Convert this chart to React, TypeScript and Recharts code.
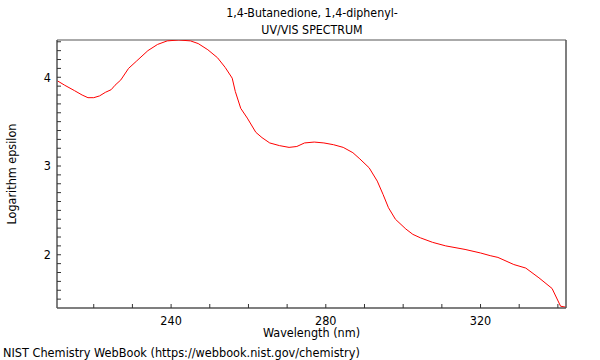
import { LineChart, Line, XAxis, YAxis, ReferenceLine } from 'recharts';

const wavelengths = [
  210.6, 212.5, 215.0, 217.0, 218.5, 220.0, 221.5, 223.0, 224.5, 225.5, 227.0, 229.0, 231.0, 234.0,
  236.5, 239.0, 242.0, 245.0, 247.0, 249.5, 252.0, 254.0, 255.8, 256.6, 258.0, 259.7, 261.9, 263.5,
  265.5, 268.0, 270.5, 272.5, 274.5, 277.0, 279.5, 282.0, 284.5, 287.0, 288.8, 291.2, 293.3, 294.8,
  296.2, 298.0, 300.7, 302.5, 304.5, 307.6, 311.0, 316.0, 320.0, 322.5, 324.5, 328.6, 331.7, 335.1,
  338.5, 340.7, 342.0,
];
const logEpsilon = [
  3.96, 3.91, 3.85, 3.8, 3.77, 3.77, 3.79, 3.83, 3.86, 3.91, 3.97, 4.1, 4.18, 4.3,
  4.37, 4.41, 4.42, 4.41, 4.38, 4.31, 4.22, 4.11, 3.99, 3.84, 3.65, 3.54, 3.38, 3.32,
  3.26, 3.23, 3.21, 3.22, 3.26, 3.27, 3.26, 3.24, 3.21, 3.15, 3.08, 2.98, 2.83, 2.68,
  2.53, 2.4, 2.29, 2.23, 2.19, 2.14, 2.1, 2.06, 2.02, 1.99, 1.97, 1.89, 1.85, 1.74,
  1.62, 1.42, 1.41,
];
const xTicks = [220, 230, 240, 250, 260, 270, 280, 290, 300, 310, 320, 330, 340];
const xMajor = [240, 280, 320];
const yTicks = [
  1.5, 1.6, 1.7, 1.8, 1.9, 2, 2.1, 2.2, 2.3, 2.4, 2.5, 2.6, 2.7, 2.8, 2.9, 3,
  3.1, 3.2, 3.3, 3.4, 3.5, 3.6, 3.7, 3.8, 3.9, 4, 4.1, 4.2, 4.3, 4.4,
];
const yMajor = [2, 3, 4];

const X_DOMAIN: [number, number] = [210.5, 342.1];
const Y_DOMAIN: [number, number] = [1.4, 4.42];

const data = wavelengths.map((w, i) => ({ w, v: logEpsilon[i] }));

const font = '"DejaVu Sans Condensed", "DejaVu Sans", sans-serif';
const axisColor = '#555';
const tickStyle = { fill: '#000', fontSize: 12.5, fontFamily: font };

export default function App() {
  return (
    <div style={{ position: 'absolute', left: 0, top: 0, width: 600, height: 360, background: '#fff', fontFamily: font }}>
      <LineChart width={600} height={360} data={data} margin={{ top: 40, right: 34, bottom: 0, left: 0 }}>
        <ReferenceLine y={Y_DOMAIN[1]} stroke="#aaa" strokeWidth={2} />
        <ReferenceLine x={X_DOMAIN[1]} stroke={axisColor} strokeWidth={1.5} />
        <Line
          dataKey="v"
          type="linear"
          stroke="#ff0000"
          strokeWidth={1}
          dot={false}
          isAnimationActive={false}
        />
        <XAxis
          dataKey="w"
          type="number"
          domain={X_DOMAIN}
          ticks={xTicks}
          allowDataOverflow
          tickSize={-4}
          tickMargin={12}
          tickLine={{ stroke: '#333', strokeWidth: 1 }}
          height={52}
          axisLine={{ stroke: axisColor, strokeWidth: 1.5 }}
          tick={tickStyle}
          tickFormatter={(v: number) => (xMajor.includes(v) ? String(v) : '')}
          interval={0}
        />
        <YAxis
          type="number"
          domain={Y_DOMAIN}
          ticks={yTicks}
          allowDataOverflow
          tickSize={-4}
          tickMargin={10}
          tickLine={{ stroke: '#333', strokeWidth: 1 }}
          width={57}
          axisLine={{ stroke: axisColor, strokeWidth: 1.5 }}
          tick={tickStyle}
          tickFormatter={(v: number) => (yMajor.includes(v) ? String(v) : '')}
          interval={0}
        />
      </LineChart>
      <div style={{ position: 'absolute', left: 0, top: 5, width: 624, textAlign: 'center', fontSize: 12.3, lineHeight: '17px', color: '#000' }}>
        1,4-Butanedione, 1,4-diphenyl-
        <br />
        UV/VIS SPECTRUM
      </div>
      <div style={{ position: 'absolute', left: 57, top: 326, width: 509, textAlign: 'center', fontSize: 12.5, lineHeight: '14px', color: '#000' }}>
        Wavelength (nm)
      </div>
      <div
        style={{
          position: 'absolute',
          left: 11,
          top: 174,
          transform: 'translate(-50%, -50%) rotate(-90deg)',
          whiteSpace: 'nowrap',
          fontSize: 12.5,
          color: '#000',
        }}
      >
        Logarithm epsilon
      </div>
      <div style={{ position: 'absolute', left: 3, top: 346, fontSize: 12.6, lineHeight: '14px', color: '#000', whiteSpace: 'nowrap' }}>
        NIST Chemistry WebBook (https://webbook.nist.gov/chemistry)
      </div>
    </div>
  );
}
